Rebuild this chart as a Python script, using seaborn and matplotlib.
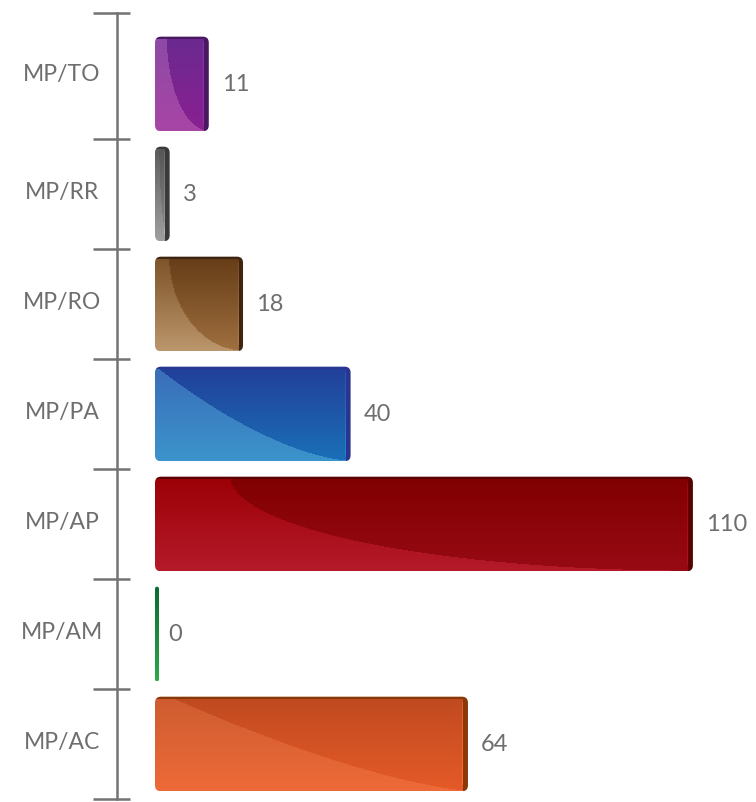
import numpy as np
import pandas as pd
import matplotlib
matplotlib.use("Agg")
import matplotlib.pyplot as plt
import seaborn as sns
from matplotlib.patches import FancyBboxPatch
from matplotlib.colors import to_rgb

categories = ["MP/TO", "MP/RR", "MP/RO", "MP/PA", "MP/AP", "MP/AM", "MP/AC"]
values = [11, 3, 18, 40, 110, 0, 64]
light_top = ["#8c4aa6", "#5a5a5a", "#7c5228", "#3a6cb8", "#9c0006", "#0a6a30", "#cd5c30"]
light_bottom = ["#a845a5", "#a0a0a0", "#bc966c", "#3c94cc", "#b41a2a", "#30a848", "#ee6a38"]
dark_top = ["#6a2a90", "#555555", "#643c16", "#223e98", "#800000", "#0a6a30", "#bf4a20"]
dark_bottom = ["#8a2090", "#8a8a8a", "#a07040", "#1a70b8", "#980a14", "#30a848", "#e55a28"]
edge_colors = ["#4a1860", "#3a3a3a", "#3f2412", "#2a3590", "#5a0000", "#064020", "#8a3808"]
# style of the glossy swoosh curve: inset (fraction of width), exponents
swoosh_inset = [0.22, 0.3, 0.16, 0.0, 0.14, 0.3, 0.04]
swoosh_p = [2.0, 2.0, 2.0, 1.6, 2.0, 2.0, 1.4]
swoosh_r = [2.0, 2.0, 2.0, 1.0, 2.0, 2.0, 1.0]

TEXT = "#6e6e6e"
W, H = 756, 803
sns.set_style("white")
plt.rcParams["font.family"] = ["Lato", "DejaVu Sans"]

fig = plt.figure(figsize=(W / 100, H / 100), dpi=100)
ax_l, ax_b, ax_w, ax_h = 117, 3, 639, 786
ax = fig.add_axes([ax_l / W, ax_b / H, ax_w / W, ax_h / H])

df = pd.DataFrame({"category": categories, "value": values})
sns.barplot(data=df, x="value", y="category", hue="category", palette=light_top,
            legend=False, width=0.86, orient="h", ax=ax)

xlim = (-7.77, 122.9)
ylim = (6.5, -0.645)
ax.set_xlim(*xlim)
ax.set_ylim(*ylim)
pxx = ax_w / (xlim[1] - xlim[0])
pxy = ax_h / (ylim[0] - ylim[1])

for p in list(ax.patches):
    x0, y0, w, h = p.get_x(), p.get_y(), p.get_width(), p.get_height()
    i = int(round(y0 + h / 2))
    p.set_visible(False)
    w_px = max(w * pxx, 4.0)
    w_d = w_px / pxx
    h_px = h * pxy
    r_px = min(6.0, w_px / 2)
    clip = FancyBboxPatch((x0, y0), w_d, h, boxstyle=f"round,pad=0,rounding_size={r_px / pxx}",
                          mutation_aspect=pxx / pxy, facecolor="none", edgecolor="none",
                          transform=ax.transData)
    ax.add_patch(clip)
    nx, ny = max(int(round(w_px)), 2), int(round(h_px))
    u = np.arange(nx)[None, :] + 0.5
    v = np.arange(ny)[:, None] + 0.5
    t = (v / ny)[..., None]
    lt, lb = np.array(to_rgb(light_top[i])), np.array(to_rgb(light_bottom[i]))
    dt, db = np.array(to_rgb(dark_top[i])), np.array(to_rgb(dark_bottom[i]))
    light = lt * (1 - t) + lb * t
    dark = dt * (1 - t) + db * t
    off = swoosh_inset[i] * w_px
    s = np.clip((u - off) / max(w_px - off, 1), 0, 1)
    vb = h_px * np.clip(1 - (1 - s) ** swoosh_p[i], 0, 1) ** (1 / swoosh_r[i])
    vb = np.where(u < off, -1, vb)
    mask = v <= vb
    img = np.where(mask[..., None], dark, light)
    img = np.broadcast_to(img, (ny, nx, 3)).copy()
    edge = np.array(to_rgb(edge_colors[i]))
    if w_px > 10:
        emask = np.broadcast_to((u > w_px - 5) | (v < 3), (ny, nx))
        img[emask] = edge
        hl = np.broadcast_to((np.abs(u - (w_px - 5.5)) < 0.6) & (v > 6) & (v < h_px - 6), (ny, nx))
        img[hl] = np.clip(img[hl] * 1.12 + 0.03, 0, 1)
    im = ax.imshow(img, extent=(x0, x0 + w_d, y0 + h, y0), origin="upper",
                   aspect="auto", interpolation="bilinear", zorder=3)
    im.set_clip_path(clip)

ax.set_xlim(*xlim)
ax.set_ylim(*ylim)

for c in ax.containers:
    ax.bar_label(c, padding=9.5, fontsize=17, color=TEXT)

bounds = [ylim[1]] + [k + 0.5 for k in range(len(categories))]
label_pos = [(bounds[k] + bounds[k + 1]) / 2 - 0.04 for k in range(len(categories))]
ax.set_yticks(label_pos, labels=categories)
ax.tick_params(axis="y", length=0, pad=39.6, labelsize=16.5, labelcolor=TEXT)
for lab in ax.get_yticklabels():
    lab.set_horizontalalignment("center")
ax.set_xticks([])
ax.set_xlabel("")
ax.set_ylabel("")
for sp in ["top", "right", "bottom"]:
    ax.spines[sp].set_visible(False)
ax.spines["left"].set_color("#737373")
ax.spines["left"].set_linewidth(1.8)
ax.hlines(bounds, -24 / ax_w, 13 / ax_w, transform=ax.get_yaxis_transform(),
          colors="#737373", linewidth=1.8, clip_on=False)

fig.savefig("out.png", dpi=100)
